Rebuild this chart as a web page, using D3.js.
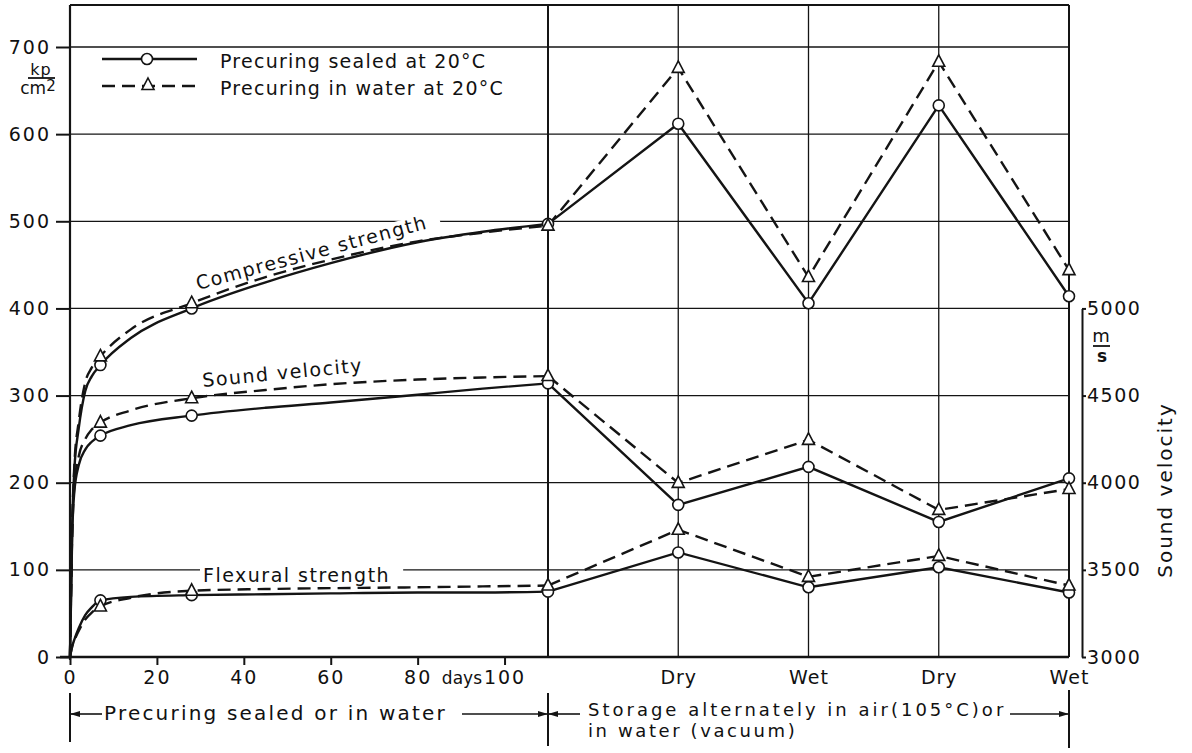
<!DOCTYPE html>
<html>
<head>
<meta charset="utf-8">
<script src="https://cdn.jsdelivr.net/npm/d3@7"></script>
<style>
  body { margin: 0; background: #fff; }
  svg text { font-family: "DejaVu Sans", sans-serif; fill: #111; }
</style>
</head>
<body>
<div id="chart"></div>
<script>
// ---- values ----
// precuring phase, days
const precureDays = [0, 0.5, 1, 2, 3.5, 5, 7, 14, 28, 45, 60, 80, 95, 110];
const markerDays = [7, 28, 110];

// compressive strength, kp/cm2
const compSealed = [0, 150, 215, 262, 305, 322, 335, 366, 400, 430, 452, 476, 488, 497];
const compWater  = [0, 150, 220, 270, 315, 332, 345, 376, 406, 436, 456, 477, 487, 495];
// sound velocity, m/s (right axis)
const soundSealed = [3000, 3700, 3950, 4100, 4190, 4235, 4270, 4330, 4385, 4430, 4460, 4505, 4540, 4570];
const soundWater  = [3000, 3700, 3980, 4150, 4250, 4305, 4345, 4415, 4485, 4532, 4565, 4592, 4604, 4612];
// flexural strength, kp/cm2
const flexSealed = [0, 12, 20, 33, 48, 57, 65, 69, 71, 72, 73, 74, 74, 75];
const flexWater  = [0, 12, 19, 30, 43, 51, 58, 68, 76, 78, 79, 80, 81, 82];

// storage phase: alternately dry / wet
const storeLabels = ["Dry", "Wet", "Dry", "Wet"];
const compSealedStore  = [612, 406, 633, 414];
const compWaterStore   = [676, 436, 683, 444];
const soundSealedStore = [3873, 4091, 3775, 4025];
const soundWaterStore  = [3999, 4246, 3844, 3964];
const flexSealedStore  = [120, 80, 103, 74];
const flexWaterStore   = [146, 92, 116, 82];

// axis ticks
const leftTicks  = [0, 100, 200, 300, 400, 500, 600, 700];
const gridTicks  = [100, 200, 300, 400, 500, 600, 700];
const dayTicks   = [0, 20, 40, 60, 80, 100];
const rightTicks = [3000, 3500, 4000, 4500, 5000];

// ---- svg setup ----
const width = 1192, height = 753;
const ink = "#141414";
const plotTop = 5, plotLeft = 70, plotRight = 1069;

const svg = d3.select("#chart").append("svg")
    .attr("width", width)
    .attr("height", height);

// scales: days part on the left, 4 storage steps on the right
const xDays = d3.scaleLinear().domain([0, 110]).range([70, 548]);
const xStore = d3.scalePoint().domain([0, 1, 2, 3, 4]).range([548, plotRight]);
const y = d3.scaleLinear().domain([0, 700]).range([657, 47]);
const yV = d3.scaleLinear().domain([3000, 5000]).range([y(0), y(400)]);

// horizontal grid
svg.append("g").selectAll("line")
    .data(gridTicks)
    .enter().append("line")
    .attr("x1", plotLeft).attr("x2", plotRight)
    .attr("y1", d => y(d)).attr("y2", d => y(d))
    .attr("stroke", ink).attr("stroke-width", 1.3);

// vertical lines in the storage part
svg.append("g").selectAll("line")
    .data(xStore.domain())
    .enter().append("line")
    .attr("x1", d => xStore(d)).attr("x2", d => xStore(d))
    .attr("y1", plotTop).attr("y2", y(0))
    .attr("stroke", ink)
    .attr("stroke-width", d => (d === 0 || d === 4) ? 2 : 1.3);

// top border and left axis line
svg.append("line")
    .attr("x1", plotLeft).attr("x2", plotRight)
    .attr("y1", plotTop).attr("y2", plotTop)
    .attr("stroke", ink).attr("stroke-width", 2);
svg.append("line")
    .attr("x1", plotLeft).attr("x2", plotLeft)
    .attr("y1", plotTop).attr("y2", y(0) + 3)
    .attr("stroke", ink).attr("stroke-width", 2.2);

// axes
function styleAxis(g) {
    g.select(".domain").remove();
    g.attr("font-family", "DejaVu Sans").attr("font-size", 19);
    g.selectAll("text").attr("letter-spacing", 2).attr("fill", ink);
    g.selectAll("line").attr("stroke", ink).attr("stroke-width", 2);
}

svg.append("g")
    .attr("transform", `translate(${plotLeft},0)`)
    .call(d3.axisLeft(y).tickValues(leftTicks).tickSize(14).tickPadding(5).tickSizeOuter(0))
    .call(styleAxis);

svg.append("g")
    .attr("transform", `translate(0,${y(0)})`)
    .call(d3.axisBottom(xDays).tickValues(dayTicks).tickSize(8).tickPadding(6).tickSizeOuter(0))
    .call(styleAxis);

svg.append("g")
    .attr("transform", `translate(0,${y(0)})`)
    .call(d3.axisBottom(xStore).tickValues([1, 2, 3, 4])
        .tickFormat(i => storeLabels[i - 1]).tickSize(0).tickPadding(14))
    .call(styleAxis)
    .selectAll("text").attr("letter-spacing", 1);

// x axis line
svg.append("line")
    .attr("x1", plotLeft - 10).attr("x2", plotRight)
    .attr("y1", y(0)).attr("y2", y(0))
    .attr("stroke", ink).attr("stroke-width", 2.6);

// right axis for sound velocity
const gRight = svg.append("g")
    .attr("transform", "translate(1082,0)")
    .call(d3.axisRight(yV).tickValues(rightTicks).tickFormat(d3.format("d"))
        .tickSize(4).tickPadding(1).tickSizeOuter(0));
gRight.attr("font-family", "DejaVu Sans").attr("font-size", 19);
gRight.selectAll("text").attr("letter-spacing", 1.5).attr("fill", ink);
gRight.selectAll("line").attr("stroke", ink).attr("stroke-width", 2);
gRight.select(".domain").attr("stroke", ink).attr("stroke-width", 2);

// "days" next to 100
svg.append("text")
    .attr("x", 482).attr("y", 684)
    .attr("text-anchor", "end")
    .attr("font-size", 17)
    .text("days");

// unit labels
svg.append("text").attr("x", 41).attr("y", 75).attr("text-anchor", "middle")
    .attr("font-size", 16).attr("letter-spacing", 1).text("kp");
svg.append("line").attr("x1", 28).attr("x2", 55).attr("y1", 78).attr("y2", 78)
    .attr("stroke", ink).attr("stroke-width", 1.8);
const cm = svg.append("text").attr("x", 38).attr("y", 94).attr("text-anchor", "middle")
    .attr("font-size", 17);
cm.append("tspan").text("cm");
cm.append("tspan").attr("dy", -3).attr("font-size", 15).text("2");

svg.append("text").attr("x", 1101).attr("y", 342).attr("text-anchor", "middle")
    .attr("font-size", 18).text("m");
svg.append("line").attr("x1", 1093).attr("x2", 1110).attr("y1", 346).attr("y2", 346)
    .attr("stroke", ink).attr("stroke-width", 1.8);
svg.append("text").attr("x", 1102).attr("y", 362).attr("text-anchor", "middle")
    .attr("font-size", 17).attr("font-weight", "bold").text("s");

svg.append("text")
    .attr("transform", "translate(1172,490) rotate(-90)")
    .attr("text-anchor", "middle")
    .attr("font-size", 20).attr("letter-spacing", 2)
    .text("Sound velocity");

// ---- series ----
const curveLine = d3.line().curve(d3.curveMonotoneX);
const straightLine = d3.line();
const markerLayer = [];

function triPath(cx, cy) {
    return `M${cx},${cy - 7}L${cx + 6},${cy + 4.5}L${cx - 6},${cy + 4.5}Z`;
}

function drawSeries(scale, pre, store, dashed) {
    const prePts = precureDays.map((d, i) => [xDays(d), scale(pre[i])]);
    const storePts = [[xStore(0), scale(pre[pre.length - 1])]]
        .concat(store.map((v, i) => [xStore(i + 1), scale(v)]));
    [[prePts, curveLine], [storePts, straightLine]].forEach(([pts, gen]) => {
        svg.append("path")
            .attr("d", gen(pts))
            .attr("fill", "none")
            .attr("stroke", ink)
            .attr("stroke-width", 2.4)
            .attr("stroke-dasharray", dashed ? "13,7" : null);
    });
    const marks = markerDays.map(d => prePts[precureDays.indexOf(d)]).concat(storePts.slice(1));
    marks.forEach(p => markerLayer.push({ p, dashed }));
}

drawSeries(y, compSealed, compSealedStore, false);
drawSeries(y, compWater, compWaterStore, true);
drawSeries(yV, soundSealed, soundSealedStore, false);
drawSeries(yV, soundWater, soundWaterStore, true);
drawSeries(y, flexSealed, flexSealedStore, false);
drawSeries(y, flexWater, flexWaterStore, true);

// markers on top
markerLayer.forEach(m => {
    if (m.dashed) {
        svg.append("path").attr("d", triPath(m.p[0], m.p[1]))
            .attr("fill", "#fff").attr("stroke", ink).attr("stroke-width", 1.6);
    } else {
        svg.append("circle").attr("cx", m.p[0]).attr("cy", m.p[1]).attr("r", 5.5)
            .attr("fill", "#fff").attr("stroke", ink).attr("stroke-width", 1.6);
    }
});

// ---- curve labels (white box cuts the grid line like in the print) ----
function curveLabel(x, yPos, angle, txt, boxed) {
    const g = svg.append("g").attr("transform", `translate(${x},${yPos}) rotate(${angle})`);
    const t = g.append("text")
        .attr("font-size", 19).attr("letter-spacing", 1.5)
        .text(txt);
    if (boxed) {
        const b = t.node().getBBox();
        g.insert("rect", "text")
            .attr("x", b.x - 3).attr("y", b.y + 3)
            .attr("width", b.width + 16).attr("height", b.height - 5)
            .attr("fill", "#fff");
    }
}
curveLabel(198, 290, -15, "Compressive strength", true);
curveLabel(203, 387, -5.5, "Sound velocity", false);
curveLabel(203, 582, 0, "Flexural strength", true);

// ---- legend ----
const legendRows = [
    { y: 59, dashed: false, label: "Precuring sealed at 20°C" },
    { y: 86, dashed: true, label: "Precuring in water at 20°C" }
];
legendRows.forEach(r => {
    svg.append("line")
        .attr("x1", 102).attr("x2", 197).attr("y1", r.y).attr("y2", r.y)
        .attr("stroke", ink).attr("stroke-width", 2.4)
        .attr("stroke-dasharray", r.dashed ? "13,7" : null);
    if (r.dashed) {
        svg.append("path").attr("d", triPath(148, r.y - 1))
            .attr("fill", "#fff").attr("stroke", ink).attr("stroke-width", 1.6);
    } else {
        svg.append("circle").attr("cx", 147).attr("cy", r.y).attr("r", 5.5)
            .attr("fill", "#fff").attr("stroke", ink).attr("stroke-width", 1.6);
    }
    svg.append("text")
        .attr("x", 220).attr("y", r.y + 9)
        .attr("font-size", 19).attr("letter-spacing", 1.25)
        .text(r.label);
});

// ---- phase brackets under the axis ----
function vline(x, y1, y2) {
    svg.append("line").attr("x1", x).attr("x2", x).attr("y1", y1).attr("y2", y2)
        .attr("stroke", ink).attr("stroke-width", 2);
}
function hline(x1, x2, yy) {
    svg.append("line").attr("x1", x1).attr("x2", x2).attr("y1", yy).attr("y2", yy)
        .attr("stroke", ink).attr("stroke-width", 1.6);
}
function arrowHead(x, yy, dir) {
    svg.append("path")
        .attr("d", `M${x},${yy}L${x - dir * 10},${yy - 3}L${x - dir * 10},${yy + 3}Z`)
        .attr("fill", ink);
}
const brY = 714;
vline(xDays(0), 693, 742);
vline(xStore(0), 693, 746);
vline(xStore(4), 690, 748);
hline(xDays(0), 102, brY); arrowHead(xDays(0), brY, -1);
hline(462, xStore(0), brY); arrowHead(xStore(0), brY, 1);
hline(xStore(0), 580, brY); arrowHead(xStore(0), brY, -1);
hline(1010, xStore(4), brY); arrowHead(xStore(4), brY, 1);

svg.append("text").attr("x", 104).attr("y", 720)
    .attr("font-size", 20).attr("letter-spacing", 2.2)
    .text("Precuring sealed or in water");
svg.append("text").attr("x", 588).attr("y", 716)
    .attr("font-size", 18).attr("letter-spacing", 3)
    .text("Storage alternately in air(105°C)or");
svg.append("text").attr("x", 588).attr("y", 737)
    .attr("font-size", 18).attr("letter-spacing", 2.6)
    .text("in water (vacuum)");
</script>
</body>
</html>
